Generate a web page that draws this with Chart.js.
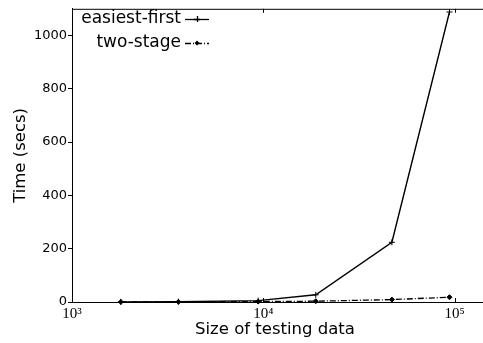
<!DOCTYPE html>
<html>
<head>
<meta charset="utf-8">
<script src="https://cdn.jsdelivr.net/npm/chart.js@4.4.0/dist/chart.umd.min.js"></script>
<style>
  html, body { margin: 0; padding: 0; background: #fff; }
  #wrap { width: 483px; height: 343px; }
</style>
</head>
<body>
<div id="wrap"><canvas id="chart" width="483" height="343"></canvas></div>
<script>
// data
const sizes = [1800, 3600, 9400, 18800, 47000, 94000];
const easiestFirst = [0.5, 1, 5, 27, 224, 1088];
const twoStage = [0.3, 0.6, 1.5, 3, 9, 18];
const seriesNames = ['easiest-first', 'two-stage'];
const xTicks = [1000, 10000, 100000];
const xTickLabels = ['10³', '10⁴', '10⁵'];
const yTicks = [0, 200, 400, 600, 800, 1000];

const sans = 'DejaVu Sans';

// legend + frame drawn by hand, matplotlib style (text right aligned, sample on the right)
const framePlugin = {
    id: 'frame',
    afterDraw(chart) {
        const ctx = chart.ctx;
        const a = chart.chartArea;
        const xs = chart.scales.x;
        ctx.save();
        ctx.strokeStyle = '#000';
        ctx.lineWidth = 1;
        // top spine, and bottom spine carried on to the edge of the figure
        ctx.beginPath();
        ctx.moveTo(a.left, a.top + 0.5);
        ctx.lineTo(chart.width, a.top + 0.5);
        ctx.moveTo(a.right - 1, a.bottom + 0.5);
        ctx.lineTo(chart.width, a.bottom + 0.5);
        ctx.stroke();
        // inward x ticks, top and bottom
        xTicks.forEach(v => {
            const px = Math.round(xs.getPixelForValue(v)) + 0.5;
            ctx.beginPath();
            ctx.moveTo(px, a.bottom);
            ctx.lineTo(px, a.bottom - 4);
            ctx.moveTo(px, a.top);
            ctx.lineTo(px, a.top + 4);
            ctx.stroke();
        });

        // legend
        ctx.font = '17px "' + sans + '"';
        ctx.fillStyle = '#000';
        ctx.textAlign = 'right';
        ctx.textBaseline = 'middle';
        const textRight = 181;
        const rows = [19, 43];
        chart.data.datasets.forEach((ds, i) => {
            const y = rows[i];
            ctx.fillText(ds.label, textRight, y);
            ctx.lineWidth = 1.3;
            ctx.setLineDash(ds.borderDash || []);
            ctx.beginPath();
            ctx.moveTo(textRight + 4, y + 0.5);
            ctx.lineTo(textRight + 28, y + 0.5);
            ctx.stroke();
            ctx.setLineDash([]);
            const mx = textRight + 16;
            if (ds.pointStyle === 'cross') {
                ctx.beginPath();
                ctx.moveTo(mx - 3, y + 0.5);
                ctx.lineTo(mx + 3, y + 0.5);
                ctx.moveTo(mx + 0.5, y - 3);
                ctx.lineTo(mx + 0.5, y + 3);
                ctx.stroke();
            } else {
                ctx.beginPath();
                ctx.moveTo(mx, y - 2.5);
                ctx.lineTo(mx + 2.5, y);
                ctx.lineTo(mx, y + 2.5);
                ctx.lineTo(mx - 2.5, y);
                ctx.closePath();
                ctx.fill();
            }
        });
        ctx.restore();
    }
};

new Chart(document.getElementById('chart'), {
    type: 'line',
    data: {
        datasets: [
            {
                label: seriesNames[0],
                data: sizes.map((s, i) => ({ x: s, y: easiestFirst[i] })),
                borderColor: '#000',
                borderWidth: 1.4,
                pointStyle: 'cross',
                pointRadius: 3,
                pointBorderColor: '#000',
                pointBorderWidth: 1,
                fill: false,
                clip: false
            },
            {
                label: seriesNames[1],
                data: sizes.map((s, i) => ({ x: s, y: twoStage[i] })),
                borderColor: '#000',
                borderWidth: 1.3,
                borderDash: [6, 2, 1, 2],
                pointStyle: 'rectRot',
                pointRadius: 2.5,
                pointBackgroundColor: '#000',
                pointBorderColor: '#000',
                pointBorderWidth: 1,
                fill: false,
                clip: false
            }
        ]
    },
    options: {
        responsive: false,
        animation: false,
        devicePixelRatio: 1,
        layout: { padding: { top: 7, right: 0, left: 0, bottom: 0 } },
        plugins: {
            legend: { display: false },
            tooltip: { enabled: false }
        },
        scales: {
            x: {
                type: 'logarithmic',
                min: 1000,
                max: 132500,
                afterBuildTicks: scale => { scale.ticks = xTicks.map(v => ({ value: v })); },
                afterFit: scale => { scale.height = 41; },
                grid: { display: false },
                border: { display: true, color: '#000', width: 1 },
                ticks: {
                    autoSkip: false,
                    maxRotation: 0,
                    padding: -5,
                    color: '#000',
                    font: { family: 'Liberation Serif', size: 15 },
                    callback: (v, i) => xTickLabels[i]
                },
                title: {
                    display: true,
                    text: 'Size of testing data',
                    color: '#000',
                    font: { family: sans, size: 16.5 },
                    padding: { top: 0, bottom: 3 }
                }
            },
            y: {
                min: 0,
                max: 1100,
                afterBuildTicks: scale => { scale.ticks = yTicks.map(v => ({ value: v })); },
                afterFit: scale => { scale.width = 72; },
                grid: { drawOnChartArea: false, tickLength: 4, color: '#000' },
                border: { display: true, color: '#000', width: 1 },
                ticks: {
                    padding: 1,
                    color: '#000',
                    font: { family: sans, size: 13 },
                    callback: v => String(v)
                },
                title: {
                    display: true,
                    text: 'Time (secs)',
                    color: '#000',
                    font: { family: sans, size: 16.5 },
                    padding: { top: 11, bottom: 0 }
                }
            }
        }
    },
    plugins: [framePlugin]
});
</script>
</body>
</html>
